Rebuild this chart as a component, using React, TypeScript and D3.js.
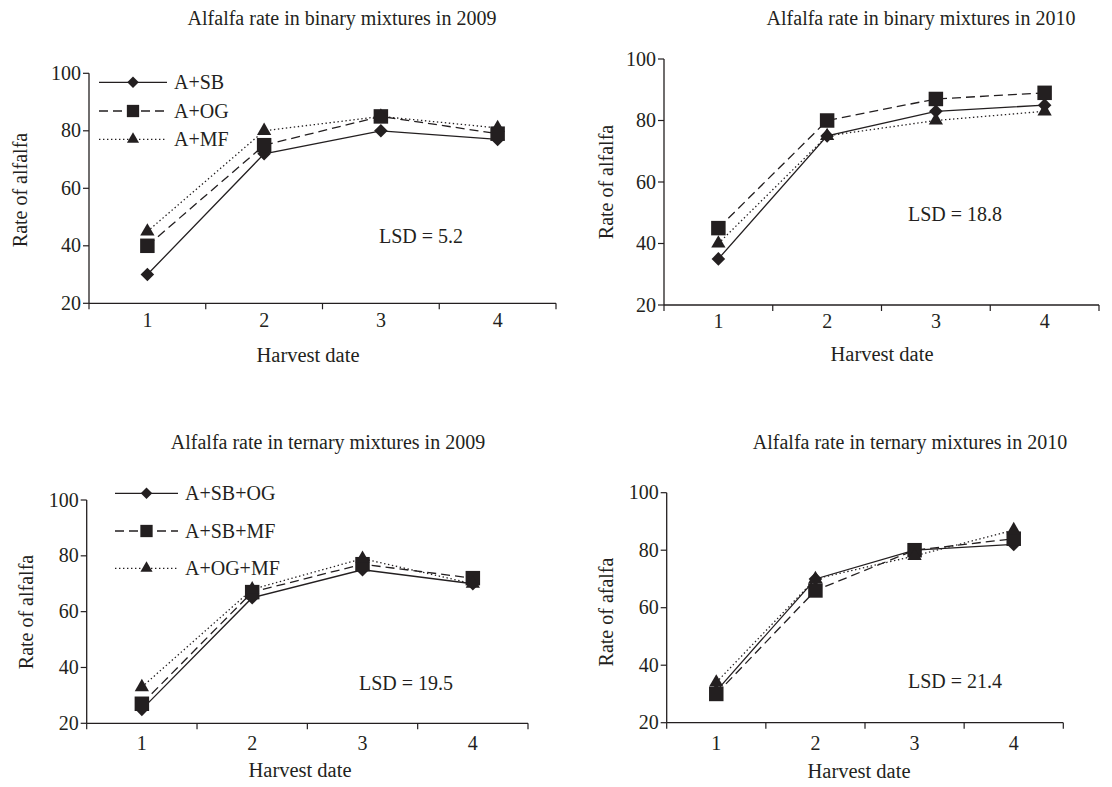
import * as d3 from 'd3';
import React from 'react';

// harvest dates and axis ticks
const harvestDates = ['1', '2', '3', '4'];
const yTicks = [20, 40, 60, 80, 100];

// binary mixtures
const binarySeries = ['A+SB', 'A+OG', 'A+MF'];
const binary2009SB = [30, 72, 80, 77];
const binary2009OG = [40, 75, 85, 79];
const binary2009MF = [45, 80, 85, 81];
const binary2010SB = [35, 75, 83, 85];
const binary2010OG = [45, 80, 87, 89];
const binary2010MF = [40, 75, 80, 83];

// ternary mixtures
const ternarySeries = ['A+SB+OG', 'A+SB+MF', 'A+OG+MF'];
const ternary2009SBOG = [25, 65, 75, 70];
const ternary2009SBMF = [27, 67, 77, 72];
const ternary2009OGMF = [33, 68, 79, 70];
const ternary2010SBOG = [31, 70, 80, 82];
const ternary2010SBMF = [30, 66, 80, 84];
const ternary2010OGMF = [34, 70, 78, 87];

const ink = '#231f20';
const font = '"Liberation Serif", "Times New Roman", serif';

// solid/diamond, dashed/square, dotted/triangle
const styles = [
  { dash: null, symbol: 'diamond' },
  { dash: '9,5', symbol: 'square' },
  { dash: '1.4,2.6', symbol: 'triangle' }
];

const symbolPath = (kind: string, s = 1) => {
  if (kind === 'diamond') return d3.symbol(d3.symbolSquare, 92 * s)();
  if (kind === 'square') return d3.symbol(d3.symbolSquare, 210 * s)();
  return d3.symbol(d3.symbolTriangle, 88 * s)();
};

const Marker = ({ kind, x, y, s = 1 }) => (
  <path
    d={symbolPath(kind, s)}
    transform={`translate(${x},${y})${kind === 'diamond' ? ' rotate(45)' : ''}`}
    fill={ink}
  />
);

const panels = [
  {
    title: 'Alfalfa rate in binary mixtures in 2009', titleX: 342, titleY: 25,
    x0: 89, x1: 556, yTop: 73.3, yBot: 303.3,
    tickY: 327, xLabelX: 308, xLabelY: 362,
    yLabel: 'Rate of alfalfa', yLabelX: 27, yLabelY: 190,
    lsd: 'LSD = 5.2', lsdX: 379, lsdY: 243,
    series: binarySeries, values: [binary2009SB, binary2009OG, binary2009MF],
    legend: { x1: 99, x2: 167, rows: [82.3, 111, 139.3], textX: 174 }
  },
  {
    title: 'Alfalfa rate in binary mixtures in 2010', titleX: 921, titleY: 25,
    x0: 664, x1: 1099, yTop: 59, yBot: 305,
    tickY: 328, xLabelX: 882, xLabelY: 361,
    yLabel: 'Rate of alfalfa', yLabelX: 613, yLabelY: 182,
    lsd: 'LSD = 18.8', lsdX: 908, lsdY: 221,
    series: binarySeries, values: [binary2010SB, binary2010OG, binary2010MF],
    legend: null
  },
  {
    title: 'Alfalfa rate in ternary mixtures in 2009', titleX: 328, titleY: 449,
    x0: 86.7, x1: 528, yTop: 500, yBot: 723.3,
    tickY: 750, xLabelX: 300, xLabelY: 777,
    yLabel: 'Rate of alfalfa', yLabelX: 33, yLabelY: 612,
    lsd: 'LSD = 19.5', lsdX: 359, lsdY: 690,
    series: ternarySeries, values: [ternary2009SBOG, ternary2009SBMF, ternary2009OGMF],
    legend: { x1: 115, x2: 178, rows: [493.3, 531, 568.3], textX: 185 }
  },
  {
    title: 'Alfalfa rate in ternary mixtures in 2010', titleX: 910, titleY: 449,
    x0: 666.7, x1: 1063.3, yTop: 492.7, yBot: 722.7,
    tickY: 750, xLabelX: 859, xLabelY: 778,
    yLabel: 'Rate of afalfa', yLabelX: 613, yLabelY: 612,
    lsd: 'LSD = 21.4', lsdX: 908, lsdY: 688,
    series: ternarySeries, values: [ternary2010SBOG, ternary2010SBMF, ternary2010OGMF],
    legend: null
  }
];

function Panel({ p }) {
  const x = d3.scaleBand().domain(harvestDates).range([p.x0, p.x1]);
  const y = d3.scaleLinear().domain([20, 100]).range([p.yBot, p.yTop]);
  const cx = (d: string) => x(d) + x.bandwidth() / 2;
  const line = d3.line<number>().x((_, i) => cx(harvestDates[i])).y(v => y(v));
  const bounds = harvestDates.map(d => x(d)).concat([p.x1]);

  return (
    <g fontFamily={font} fill={ink}>
      <text x={p.titleX} y={p.titleY} textAnchor="middle" fontSize={20}>{p.title}</text>

      {/* axes */}
      <line x1={p.x0} x2={p.x0} y1={p.yTop} y2={p.yBot} stroke={ink} strokeWidth={1.3} />
      <line x1={p.x0} x2={p.x1} y1={p.yBot} y2={p.yBot} stroke={ink} strokeWidth={1.3} />
      {yTicks.map(t => (
        <g key={t}>
          <line x1={p.x0 - 6} x2={p.x0} y1={y(t)} y2={y(t)} stroke={ink} strokeWidth={1.2} />
          <text x={p.x0 - 8} y={y(t)} dy="0.33em" textAnchor="end" fontSize={20}>{t}</text>
        </g>
      ))}
      {bounds.map((b, i) => (
        <line key={i} x1={b} x2={b} y1={p.yBot} y2={p.yBot + 6} stroke={ink} strokeWidth={1.2} />
      ))}
      {harvestDates.map(d => (
        <text key={d} x={cx(d)} y={p.tickY} textAnchor="middle" fontSize={20}>{d}</text>
      ))}
      <text x={p.xLabelX} y={p.xLabelY} textAnchor="middle" fontSize={20.5}>Harvest date</text>
      <text transform={`translate(${p.yLabelX},${p.yLabelY}) rotate(-90)`} textAnchor="middle" fontSize={20}>
        {p.yLabel}
      </text>

      {/* series */}
      {p.values.map((vals, i) => (
        <g key={i}>
          <path d={line(vals)} fill="none" stroke={ink} strokeWidth={1.3}
            strokeDasharray={styles[i].dash || undefined} />
          {vals.map((v, j) => (
            <Marker key={j} kind={styles[i].symbol} x={cx(harvestDates[j])} y={y(v)} />
          ))}
        </g>
      ))}

      <text x={p.lsdX} y={p.lsdY} fontSize={20}>{p.lsd}</text>

      {p.legend && p.series.map((name, i) => {
        const ly = p.legend.rows[i];
        return (
          <g key={name}>
            <line x1={p.legend.x1} x2={p.legend.x2} y1={ly} y2={ly} stroke={ink} strokeWidth={1.3}
              strokeDasharray={styles[i].dash || undefined} />
            <Marker kind={styles[i].symbol} x={(p.legend.x1 + p.legend.x2) / 2} y={ly} s={0.72} />
            <text x={p.legend.textX} y={ly} dy="0.35em" fontSize={20}>{name}</text>
          </g>
        );
      })}
    </g>
  );
}

export default function App() {
  return (
    <div style={{ position: 'absolute', left: 0, top: 0 }}>
      <svg width={1112} height={787} style={{ display: 'block', background: '#fff' }}>
        {panels.map((p, i) => <Panel key={i} p={p} />)}
      </svg>
    </div>
  );
}
